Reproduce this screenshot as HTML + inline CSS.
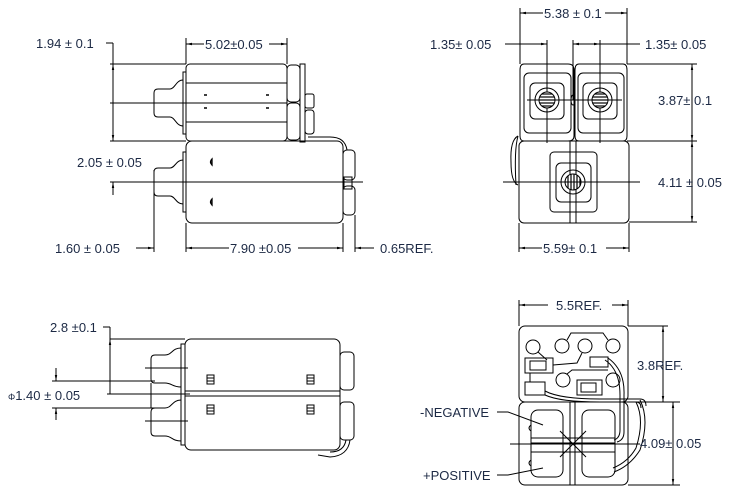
<!DOCTYPE html>
<html><head><meta charset="utf-8"><style>
html,body{margin:0;padding:0;background:#fff;}
svg{display:block;}
text{font-family:"Liberation Sans",sans-serif;font-size:13px;fill:#1c2944;}
</style></head><body>
<svg width="741" height="500" viewBox="0 0 741 500" xmlns="http://www.w3.org/2000/svg">
<defs>
<marker id="a" viewBox="0 0 10 10" refX="10" refY="5" markerWidth="6" markerHeight="6" orient="auto-start-reverse"><path d="M0,3 L10,5 L0,7 z" fill="#000"/></marker>
<pattern id="hh" width="4" height="3" patternUnits="userSpaceOnUse"><rect width="4" height="3" fill="#fff"/><line x1="0" y1="1" x2="4" y2="1" stroke="#000" stroke-width="1.2"/></pattern>
<pattern id="vh" width="3" height="4" patternUnits="userSpaceOnUse"><rect width="3" height="4" fill="#fff"/><line x1="1" y1="0" x2="1" y2="4" stroke="#000" stroke-width="1.2"/></pattern>
</defs>
<g fill="none" stroke="#000" stroke-width="1">
<!-- ===== TOP LEFT ===== -->
<line x1="106" y1="43" x2="113" y2="43"/><line x1="113" y1="43" x2="113" y2="141"/>
<line x1="113" y1="64" x2="113" y2="80" marker-start="url(#a)"/>
<line x1="113" y1="141" x2="113" y2="128" marker-start="url(#a)"/>
<line x1="110" y1="64" x2="186" y2="64"/><line x1="110" y1="103" x2="186" y2="103"/><line x1="110" y1="141" x2="186" y2="141"/>
<line x1="186" y1="38" x2="186" y2="64"/><line x1="287" y1="38" x2="287" y2="64"/>
<line x1="186" y1="44" x2="204" y2="44" marker-start="url(#a)"/><line x1="269" y1="44" x2="287" y2="44" marker-end="url(#a)"/>
<rect x="186" y="64" width="101" height="77" rx="4"/>
<line x1="186" y1="83" x2="287" y2="83"/><line x1="186" y1="103" x2="287" y2="103"/><line x1="186" y1="122" x2="287" y2="122"/>
<rect x="183" y="72" width="3" height="62"/>
<path d="M183,80 C176,80 175,89 170,89 L158,89 Q154,89 154,93 L154,113 Q154,117 158,117 L170,117 C175,117 176,126 183,126"/>
<g stroke-width="1.5"><line x1="204" y1="95" x2="207" y2="95"/><line x1="204" y1="108" x2="207" y2="108"/><line x1="266" y1="95" x2="269" y2="95"/><line x1="266" y1="108" x2="269" y2="108"/></g>
<rect x="287" y="65" width="13" height="37" rx="4"/><rect x="287" y="103" width="13" height="37" rx="4"/>
<rect x="300" y="64" width="5" height="78"/>
<rect x="305" y="94" width="9" height="14" rx="2"/><rect x="305" y="110" width="9" height="24" rx="3"/>
<path d="M308,137 L330,137 Q345,137 347,150"/>
<rect x="186" y="141" width="157" height="82" rx="6"/>
<rect x="183" y="152" width="3" height="60"/>
<path d="M183,160 C176,160 175,168 170,168 L158,168 Q154,168 154,172 L154,192 Q154,196 158,196 L170,196 C175,196 176,204 183,204"/>
<path d="M212,159 Q209,162 212,165 Z" stroke-width="1.3"/><path d="M212,199 Q209,202 212,205 Z" stroke-width="1.3"/>
<rect x="343" y="150" width="12" height="30" rx="4"/><rect x="343" y="186" width="12" height="29" rx="4"/>
<rect x="344" y="177" width="8" height="12"/>
<line x1="110" y1="182" x2="363" y2="182"/>
<line x1="113" y1="182" x2="113" y2="195" marker-start="url(#a)"/>
<line x1="154" y1="170" x2="154" y2="252"/><line x1="186" y1="223" x2="186" y2="252"/><line x1="343" y1="223" x2="343" y2="252"/><line x1="355" y1="215" x2="355" y2="252"/>
<line x1="136" y1="248" x2="154" y2="248" marker-end="url(#a)"/>
<line x1="186" y1="248" x2="229" y2="248" marker-start="url(#a)"/><line x1="298" y1="248" x2="343" y2="248" marker-end="url(#a)"/>
<line x1="355" y1="248" x2="374" y2="248" marker-start="url(#a)"/>
<!-- ===== TOP RIGHT ===== -->
<line x1="520" y1="8" x2="520" y2="64"/><line x1="627" y1="8" x2="627" y2="64"/>
<line x1="520" y1="13" x2="543" y2="13" marker-start="url(#a)"/><line x1="605" y1="13" x2="627" y2="13" marker-end="url(#a)"/>
<line x1="505" y1="44" x2="547" y2="44"/><line x1="525" y1="44" x2="547" y2="44" marker-end="url(#a)"/>
<line x1="573" y1="44" x2="640" y2="44"/><line x1="573" y1="44" x2="592" y2="44" marker-start="url(#a)"/><line x1="590" y1="44" x2="600" y2="44" marker-end="url(#a)"/>
<line x1="547" y1="40" x2="547" y2="143"/><line x1="600" y1="40" x2="600" y2="143"/><line x1="573" y1="40" x2="573" y2="100"/>
<path d="M524,64 L568,64 Q574,64 574,70 L574,136 Q574,141 568,141 L524,141 Q520,141 520,136 L520,70 Q520,64 524,64 Z"/>
<path d="M579,64 L623,64 Q627,64 627,70 L627,136 Q627,141 623,141 L579,141 Q575,141 575,136 L575,70 Q575,64 579,64 Z"/>
<rect x="524" y="73" width="47" height="60" rx="5"/><rect x="578" y="73" width="46" height="60" rx="5"/>
<rect x="530" y="83" width="34" height="36" rx="5"/><rect x="583" y="83" width="34" height="36" rx="5"/>
<circle cx="547" cy="100" r="12"/><circle cx="600" cy="100" r="12"/>
<circle cx="547" cy="100" r="8" fill="url(#hh)"/><circle cx="600" cy="100" r="8" fill="url(#hh)"/>
<ellipse cx="573" cy="100" rx="2" ry="5"/>
<line x1="527" y1="100" x2="622" y2="100"/>
<rect x="519" y="141" width="110" height="82" rx="5"/>
<line x1="570" y1="141" x2="570" y2="223"/><line x1="576" y1="141" x2="576" y2="223"/>
<rect x="550" y="152" width="47" height="60" rx="4"/><rect x="556" y="163" width="35" height="39" rx="5"/>
<circle cx="573" cy="182" r="12"/><circle cx="573" cy="182" r="8" fill="url(#vh)"/>
<path d="M518,136 Q510,140 511,162 Q511,182 518,185"/><path d="M518,136 Q514,150 516,185"/>
<line x1="503" y1="182" x2="640" y2="182"/>
<line x1="627" y1="64" x2="697" y2="64"/><line x1="627" y1="141" x2="697" y2="141"/><line x1="629" y1="222" x2="697" y2="222"/>
<line x1="692" y1="64" x2="692" y2="222"/>
<line x1="692" y1="80" x2="692" y2="64" marker-end="url(#a)"/><line x1="692" y1="125" x2="692" y2="141" marker-end="url(#a)"/>
<line x1="692" y1="157" x2="692" y2="141" marker-end="url(#a)"/><line x1="692" y1="206" x2="692" y2="222" marker-end="url(#a)"/>
<line x1="519" y1="223" x2="519" y2="252"/><line x1="629" y1="223" x2="629" y2="252"/>
<line x1="519" y1="248" x2="542" y2="248" marker-start="url(#a)"/><line x1="606" y1="248" x2="629" y2="248" marker-end="url(#a)"/>
<!-- ===== BOTTOM LEFT ===== -->
<line x1="103" y1="327" x2="110" y2="327"/><line x1="110" y1="327" x2="110" y2="394"/>
<line x1="110" y1="352" x2="110" y2="339" marker-end="url(#a)"/>
<line x1="107" y1="394" x2="190" y2="394"/><line x1="110" y1="339" x2="185" y2="339"/>
<rect x="185" y="339" width="155" height="111" rx="6"/>
<line x1="185" y1="391" x2="340" y2="391"/><line x1="185" y1="396" x2="340" y2="396"/>
<rect x="181" y="344" width="4" height="101"/>
<path d="M181,348 C172,348 172,355 165,355 L155,355 Q151,355 151,359 L151,379 Q151,383 155,383 L165,383 C172,383 172,387 181,387"/>
<path d="M181,400 C172,400 172,408 165,408 L155,408 Q151,408 151,412 L151,432 Q151,436 155,436 L165,436 C172,436 172,441 181,441"/>
<path d="M151,383 L151,408"/>
<line x1="145" y1="368" x2="188" y2="368"/><line x1="145" y1="421" x2="188" y2="421"/>
<line x1="52" y1="381" x2="155" y2="381"/><line x1="52" y1="408" x2="155" y2="408"/>
<line x1="56" y1="368" x2="56" y2="381" marker-end="url(#a)"/><line x1="56" y1="420" x2="56" y2="408" marker-end="url(#a)"/>
<g><rect x="207" y="375" width="7" height="9"/><line x1="207" y1="378" x2="214" y2="378"/><line x1="207" y1="381" x2="214" y2="381"/>
<rect x="307" y="375" width="7" height="9"/><line x1="307" y1="378" x2="314" y2="378"/><line x1="307" y1="381" x2="314" y2="381"/>
<rect x="207" y="405" width="7" height="9"/><line x1="207" y1="408" x2="214" y2="408"/><line x1="207" y1="411" x2="214" y2="411"/>
<rect x="307" y="405" width="7" height="9"/><line x1="307" y1="408" x2="314" y2="408"/><line x1="307" y1="411" x2="314" y2="411"/></g>
<rect x="340" y="352" width="14" height="38" rx="4"/><rect x="340" y="402" width="14" height="38" rx="4"/>
<path d="M350,440 Q348,456 330,457 L318,455"/><path d="M346,440 Q344,452 330,452"/>
<!-- ===== BOTTOM RIGHT ===== -->
<line x1="519" y1="300" x2="519" y2="326"/><line x1="628" y1="300" x2="628" y2="326"/>
<line x1="519" y1="305" x2="548" y2="305" marker-start="url(#a)"/><line x1="612" y1="305" x2="628" y2="305" marker-end="url(#a)"/>
<rect x="519" y="326" width="109" height="76" rx="6"/>
<circle cx="533" cy="347" r="7"/><circle cx="562" cy="346" r="7"/><circle cx="585" cy="346" r="7"/><circle cx="613" cy="346" r="7"/>
<circle cx="563" cy="380" r="7"/><circle cx="613" cy="380" r="7"/>
<path d="M567,340 L571,333 L603,333 L608,340"/>
<path d="M538,352 L547,360"/><path d="M582,353 L577,363 L553,365"/>
<rect x="525" y="358" width="28" height="15"/><rect x="530" y="361" width="16" height="9"/>
<rect x="590" y="357" width="18" height="10"/>
<rect x="525" y="382" width="20" height="13"/><path d="M530,373 L530,382"/>
<rect x="577" y="380" width="25" height="15"/><rect x="581" y="383" width="15" height="9"/>
<path d="M567,374 L572,370 L608,370"/>
<path d="M545,391 Q560,399 600,399 L640,399 Q646,399 646,406"/>
<path d="M545,395 Q560,402 600,402 L636,402 Q641,402 641,408"/>
<path d="M605,360 Q620,370 620,395 L620,430 Q620,438 614,440"/>
<path d="M608,358 Q625,370 624,395 L624,432 Q624,440 617,442"/>
<path d="M640,400 Q650,420 640,450 Q630,466 614,472"/><path d="M636,402 Q645,420 636,448 Q628,462 613,468"/>
<rect x="519" y="402" width="109" height="83" rx="6"/>
<line x1="570" y1="402" x2="570" y2="485"/><line x1="575" y1="402" x2="575" y2="485"/>
<rect x="531" y="410" width="32" height="67" rx="7"/><rect x="582" y="410" width="33" height="67" rx="7"/>
<line x1="531" y1="438" x2="615" y2="438"/><line x1="531" y1="443" x2="615" y2="443"/><line x1="531" y1="452" x2="615" y2="452"/>
<line x1="560" y1="431" x2="586" y2="457"/><line x1="560" y1="457" x2="586" y2="431"/>
<path d="M531,425 Q527,428 531,431"/><path d="M531,460 Q527,463 531,466"/>
<line x1="510" y1="444" x2="640" y2="444"/>
<line x1="628" y1="326" x2="668" y2="326"/><line x1="663" y1="326" x2="663" y2="402"/>
<line x1="663" y1="340" x2="663" y2="326" marker-end="url(#a)"/><line x1="663" y1="388" x2="663" y2="402" marker-end="url(#a)"/>
<line x1="628" y1="402" x2="680" y2="402"/><line x1="628" y1="485" x2="680" y2="485"/>
<line x1="673" y1="402" x2="673" y2="485"/>
<line x1="673" y1="416" x2="673" y2="402" marker-end="url(#a)"/><line x1="673" y1="471" x2="673" y2="485" marker-end="url(#a)"/>
<path d="M497,412 L508,412 L543,425"/><path d="M497,475 L508,475 L543,468"/>
</g>
<!-- TEXT -->
<text x="36" y="48">1.94 ± 0.1</text>
<text x="205" y="49">5.02±0.05</text>
<text x="77" y="167">2.05 ± 0.05</text>
<text x="55" y="253">1.60 ± 0.05</text>
<text x="230" y="253">7.90 ±0.05</text>
<text x="380" y="253">0.65REF.</text>
<text x="544" y="18">5.38 ± 0.1</text>
<text x="430" y="49">1.35± 0.05</text>
<text x="645" y="49">1.35± 0.05</text>
<text x="658" y="105">3.87± 0.1</text>
<text x="658" y="187">4.11 ± 0.05</text>
<text x="543" y="253">5.59± 0.1</text>
<text x="50" y="332">2.8 ±0.1</text>
<text x="8" y="400"><tspan style="font-size:9px">Φ</tspan>1.40 ± 0.05</text>
<text x="556" y="310">5.5REF.</text>
<text x="637" y="370">3.8REF.</text>
<text x="640" y="448">4.09± 0.05</text>
<text x="420" y="417">-NEGATIVE</text>
<text x="423" y="480">+POSITIVE</text>
</svg>
</body></html>
